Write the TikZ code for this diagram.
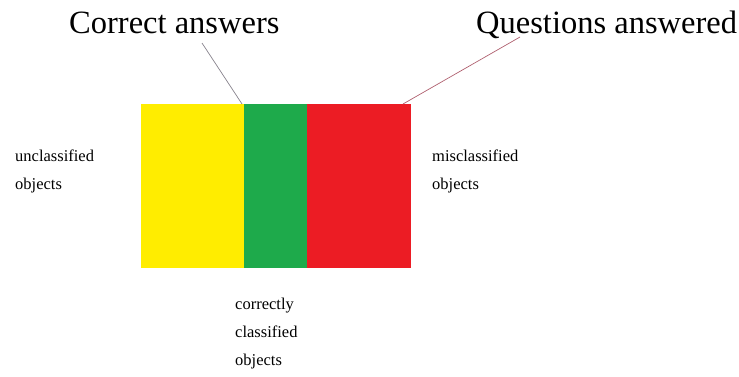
\documentclass[tikz,border=0pt]{standalone}
\usepackage{fontspec}
\setmainfont{Liberation Serif}
\definecolor{cyellow}{RGB}{255,237,0}
\definecolor{cgreen}{RGB}{30,170,75}
\definecolor{cred}{RGB}{236,28,36}
\definecolor{cgrey}{RGB}{135,130,140}
\definecolor{cpink}{RGB}{175,95,110}
\begin{document}
\begin{tikzpicture}[x=1pt,y=-1pt,
  title/.style={font=\fontsize{32.5}{32}\selectfont,inner sep=0pt,anchor=base west},
  lbl/.style={font=\fontsize{16.5}{28}\selectfont,inner sep=0pt,align=left,anchor=north west},
  pointer/.style={line width=0.7pt}]
\useasboundingbox (0,0) rectangle (739,377);
\fill[cyellow] (141,104) rectangle (244,268);
\fill[cgreen] (244,104) rectangle (307,268);
\fill[cred] (307,104) rectangle (411,268);
\coordinate (ytl) at (242,104);
\coordinate (rtr) at (403,104);
\node[title] (ca) at (69,34) {Correct answers};
\node[title] (qa) at (476,34) {Questions answered};
\coordinate (cap) at (202,43);
\coordinate (qap) at (520,37);
\draw[pointer,cgrey] (cap) -- (ytl);
\draw[pointer,cpink] (qap) -- (rtr);
\node[lbl] (un) at (15,150) {unclassified\\objects};
\node[lbl] (mis) at (432,150) {misclassified\\objects};
\node[lbl] (cor) at (235,298) {correctly\\classified\\objects};
\end{tikzpicture}
\end{document}
